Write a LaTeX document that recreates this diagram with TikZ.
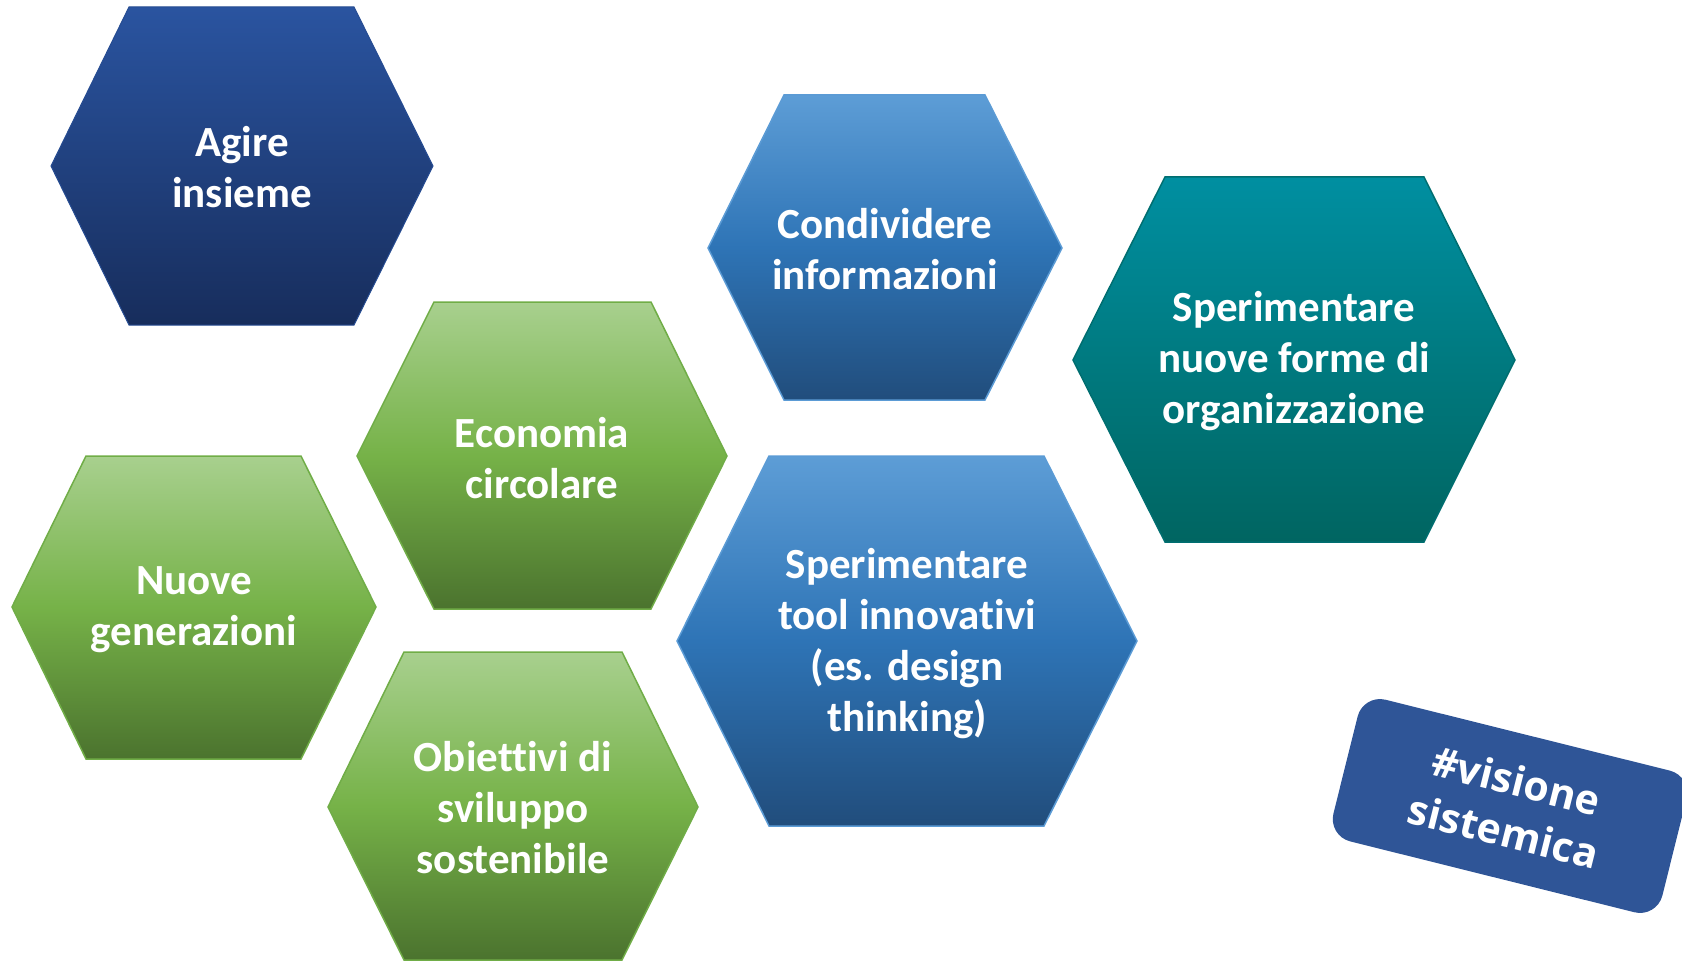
\documentclass[tikz,border=0pt]{standalone}
\usepackage{fontspec}
\newfontfamily\hexfont{Carlito}[Ligatures=NoCommon]
\newfontfamily\tagfont{Open Sans}
\definecolor{agireTop}{RGB}{42,84,160}
\definecolor{agireBot}{RGB}{23,45,92}
\definecolor{blueTop}{RGB}{93,157,214}
\definecolor{blueMid}{RGB}{46,116,182}
\definecolor{blueBot}{RGB}{33,77,124}
\definecolor{blueEdge}{RGB}{91,155,213}
\definecolor{tealTop}{RGB}{0,143,161}
\definecolor{tealMid}{RGB}{0,122,128}
\definecolor{tealBot}{RGB}{0,101,97}
\definecolor{tealEdge}{RGB}{0,110,112}
\definecolor{greenTop}{RGB}{168,208,142}
\definecolor{greenMid}{RGB}{118,178,72}
\definecolor{greenBot}{RGB}{75,115,46}
\definecolor{greenEdge}{RGB}{112,173,71}
\definecolor{tagBlue}{RGB}{47,85,151}
\tikzset{
  hexagonA/.style={top color=agireTop, bottom color=agireBot, draw=agireTop!80!agireBot, line width=1pt},
  hexagonB/.style={top color=blueTop, bottom color=blueBot, middle color=blueMid, draw=blueEdge, line width=1.5pt},
  hexagonT/.style={top color=tealTop, bottom color=tealBot, middle color=tealMid, draw=tealEdge, line width=1.5pt},
  hexagonG/.style={top color=greenTop, bottom color=greenBot, middle color=greenMid, draw=greenEdge, line width=1.5pt},
  hexlabel/.style={text=white, align=center, font=\hexfont\bfseries\fontsize{43}{51}\selectfont, inner sep=0pt},
  taglabel/.style={fill=tagBlue, rounded corners=23pt, text=white, align=center,
     font=\tagfont\bfseries\fontsize{41}{52}\selectfont, minimum width=339pt, minimum height=146pt, inner sep=0pt}
}
\begin{document}
\begin{tikzpicture}[x=1pt,y=-1pt]
\useasboundingbox (0,0) rectangle (1682,963);
\clip (0,0) rectangle (1682,963);
% Agire insieme
\shade[hexagonA] (129,7) -- (354,7) -- (433,166) -- (354,325) -- (129,325) -- (51,166) -- cycle;
\node[hexlabel] (agire) at (242,167) {Agire\\insieme};
% Condividere informazioni
\shade[hexagonB] (784,95) -- (985,95) -- (1062,248) -- (985,400) -- (784,400) -- (708,248) -- cycle;
\node[hexlabel] (cond) at (885,249) {Condividere\\informazioni};
% Sperimentare nuove forme
\shade[hexagonT] (1165,177) -- (1424,177) -- (1515,360) -- (1424,542) -- (1165,542) -- (1073,360) -- cycle;
\node[hexlabel] (forme) at (1294,361) {Sperimentare\\nuove forme di\\organizzazione};
% Economia circolare
\shade[hexagonG] (434,302) -- (651,302) -- (727,456) -- (651,609) -- (434,609) -- (357,456) -- cycle;
\node[hexlabel] (econ) at (542,458) {Economia\\circolare};
% Nuove generazioni
\shade[hexagonG] (86,456) -- (301,456) -- (376,607) -- (301,759) -- (86,759) -- (12,607) -- cycle;
\node[hexlabel] (nuove) at (194,610) {Nuove\\generazioni};
% Obiettivi di sviluppo sostenibile
\shade[hexagonG] (404,652) -- (622,652) -- (698,807) -- (622,960) -- (404,960) -- (328,807) -- cycle;
\node[hexlabel] (obiet) at (513,808) {Obiettivi di\\sviluppo\\sostenibile};
% Sperimentare tool innovativi
\shade[hexagonB] (769,456) -- (1044,456) -- (1137,641) -- (1044,826) -- (769,826) -- (677,641) -- cycle;
\node[hexlabel] (tool) at (907,644) {Sperimentare\\tool innovativi\\(es. design\\thinking)};
% tag
\node[taglabel, rotate=-14] (tag) at (1510,806) {\#visione\\sistemica};
\end{tikzpicture}
\end{document}
